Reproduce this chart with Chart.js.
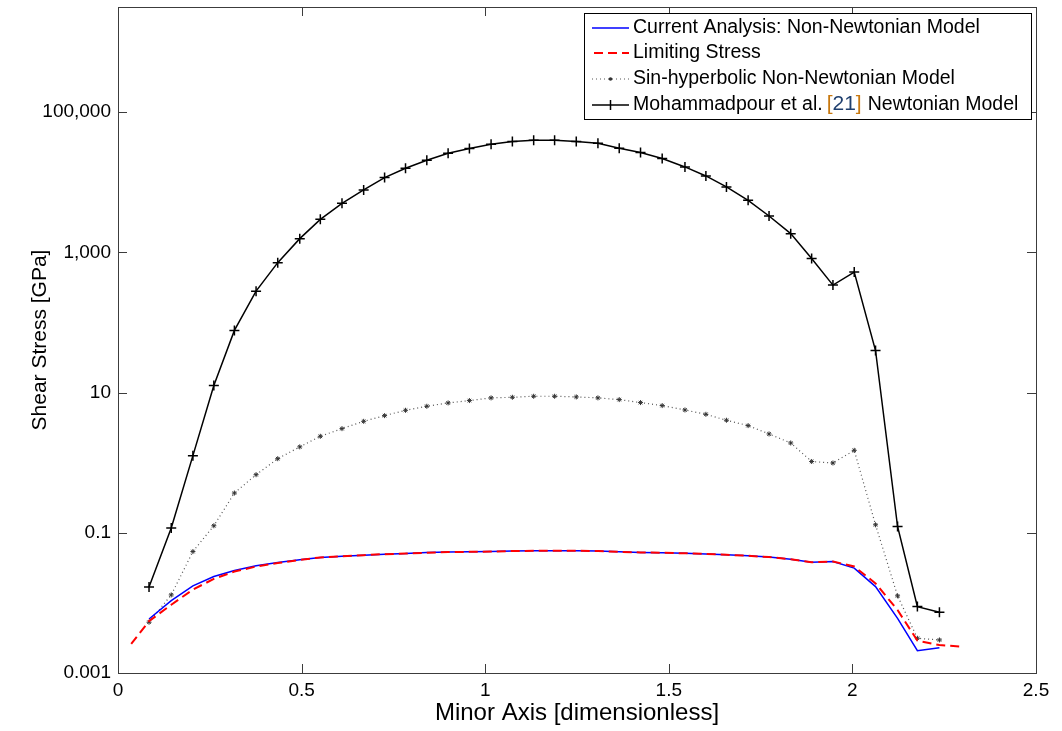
<!DOCTYPE html>
<html>
<head>
<meta charset="utf-8">
<script src="https://cdn.jsdelivr.net/npm/chart.js@4.4.1/dist/chart.umd.min.js"></script>
<style>
  html, body { margin: 0; padding: 0; background: #fff; }
  #wrap { width: 1062px; height: 731px; }
</style>
</head>
<body>
<div id="wrap"><canvas id="chart" width="1062" height="731"></canvas></div>
<script>
// minor axis positions of the model points
const xPts = [0.0845, 0.145, 0.204, 0.261, 0.317, 0.376, 0.435, 0.495, 0.551, 0.610,
    0.669, 0.726, 0.783, 0.841, 0.899, 0.957, 1.016, 1.074, 1.132, 1.189,
    1.248, 1.307, 1.365, 1.423, 1.482, 1.544, 1.601, 1.657, 1.716, 1.773,
    1.832, 1.889, 1.947, 2.005, 2.063, 2.123, 2.177, 2.237];

const currentStress = [0.0059, 0.0108, 0.0175, 0.0238, 0.029, 0.0338, 0.0377, 0.0411, 0.0445, 0.0464,
    0.048, 0.0496, 0.0505, 0.0523, 0.053, 0.0535, 0.054, 0.055, 0.0553, 0.0553,
    0.0553, 0.055, 0.0535, 0.0525, 0.052, 0.051, 0.05, 0.0485, 0.047, 0.045,
    0.042, 0.038, 0.039, 0.0313, 0.0171, 0.006, 0.00208, 0.00229];

const limitX = [0.036, 0.0845, 0.145, 0.204, 0.261, 0.317, 0.376, 0.435, 0.495, 0.551, 0.610,
    0.669, 0.726, 0.783, 0.841, 0.899, 0.957, 1.016, 1.074, 1.132, 1.189,
    1.248, 1.307, 1.365, 1.423, 1.482, 1.544, 1.601, 1.657, 1.716, 1.773,
    1.832, 1.889, 1.947, 2.005, 2.063, 2.123, 2.177, 2.237, 2.298];
const limitStress = [0.0026, 0.0055, 0.0094, 0.0155, 0.022, 0.028, 0.033, 0.037, 0.041, 0.0445, 0.0464,
    0.048, 0.0496, 0.0505, 0.052, 0.053, 0.0535, 0.054, 0.055, 0.0553, 0.0553,
    0.0553, 0.055, 0.0535, 0.0525, 0.052, 0.051, 0.05, 0.0485, 0.047, 0.045,
    0.042, 0.038, 0.039, 0.033, 0.019, 0.0079, 0.0029, 0.0025, 0.00238];

const sinhStress = [0.0053, 0.013, 0.054, 0.126, 0.369, 0.674, 1.14, 1.68, 2.38, 3.06,
    3.89, 4.69, 5.59, 6.38, 7.12, 7.69, 8.4, 8.57, 8.86, 8.86,
    8.67, 8.4, 7.94, 7.2, 6.52, 5.65, 4.9, 4.03, 3.38, 2.57,
    1.91, 1.04, 0.99, 1.5, 0.13, 0.0126, 0.00313, 0.00296];

const newtonStress = [0.0168, 0.117, 1.26, 12.6, 77, 280, 713, 1570, 2960, 5010,
    7760, 11660, 15850, 20600, 25960, 30400, 34900, 38100, 39800, 39800,
    38100, 36100, 30600, 26500, 21800, 16550, 12300, 8570, 5530, 3300,
    1850, 820, 341, 523, 39.8, 0.123, 0.00885, 0.00736];

const yTicks = [0.001, 0.1, 10, 1000, 100000];
const legendLabels = [
    'Current Analysis: Non-Newtonian Model',
    'Limiting Stress',
    'Sin-hyperbolic Non-Newtonian Model',
    'Mohammadpour et al.'
];

const FONT = "'Liberation Sans', Arial, sans-serif";

function pts(xs, ys) { return xs.map((x, i) => ({ x: x, y: ys[i] })); }

// box round the axes with inward ticks on all four sides
const framePlugin = {
    id: 'frame',
    afterDatasetsDraw(chart) {
        const { ctx, chartArea: a, scales: { x, y } } = chart;
        ctx.save();
        ctx.strokeStyle = '#3c3c3c';
        ctx.lineWidth = 1;
        ctx.strokeRect(Math.round(a.left) + 0.5, Math.round(a.top) + 0.5,
            Math.round(a.width), Math.round(a.height));
        ctx.beginPath();
        x.ticks.forEach(t => {
            const px = Math.round(x.getPixelForValue(t.value)) + 0.5;
            ctx.moveTo(px, a.bottom); ctx.lineTo(px, a.bottom - 9);
            ctx.moveTo(px, a.top); ctx.lineTo(px, a.top + 9);
        });
        y.ticks.forEach(t => {
            const py = Math.round(y.getPixelForValue(t.value)) + 0.5;
            ctx.moveTo(a.left, py); ctx.lineTo(a.left + 9, py);
            ctx.moveTo(a.right, py); ctx.lineTo(a.right - 9, py);
        });
        ctx.stroke();
        ctx.restore();
    }
};

// matlab style legend box, top right
const legendPlugin = {
    id: 'matLegend',
    afterDraw(chart) {
        const ctx = chart.ctx;
        const bx = 584, by = 13, bw = 447, bh = 106;
        ctx.save();
        ctx.fillStyle = '#fff';
        ctx.fillRect(bx, by, bw, bh);
        ctx.strokeStyle = '#000';
        ctx.lineWidth = 1;
        ctx.strokeRect(bx + 0.5, by + 0.5, bw, bh);

        const x0 = 592, x1 = 629, tx = 633;
        const rows = [28, 53, 79, 105];
        const legFont = '19.5px ' + FONT;
        ctx.textBaseline = 'middle';
        ctx.font = legFont;

        // blue solid
        ctx.strokeStyle = '#0000ff'; ctx.lineWidth = 1.5;
        ctx.beginPath(); ctx.moveTo(x0, rows[0]); ctx.lineTo(x1, rows[0]); ctx.stroke();
        // red dashed
        ctx.strokeStyle = '#ff0000'; ctx.lineWidth = 2; ctx.setLineDash([9, 5]);
        ctx.beginPath(); ctx.moveTo(x0 + 2, rows[1]); ctx.lineTo(x1, rows[1]); ctx.stroke();
        // gray dotted with marker
        ctx.strokeStyle = '#555'; ctx.lineWidth = 1; ctx.setLineDash([1, 3]);
        ctx.beginPath(); ctx.moveTo(x0, rows[2]); ctx.lineTo(x1, rows[2]); ctx.stroke();
        ctx.setLineDash([]);
        ctx.fillStyle = '#333';
        ctx.beginPath(); ctx.arc((x0 + x1) / 2, rows[2], 1.8, 0, Math.PI * 2); ctx.fill();
        // black with plus
        ctx.strokeStyle = '#000'; ctx.lineWidth = 1.5;
        const mx = (x0 + x1) / 2;
        ctx.beginPath();
        ctx.moveTo(x0, rows[3]); ctx.lineTo(x1, rows[3]);
        ctx.moveTo(mx, rows[3] - 5); ctx.lineTo(mx, rows[3] + 5);
        ctx.stroke();

        ctx.fillStyle = '#000';
        for (let i = 0; i < 4; i++) ctx.fillText(legendLabels[i], tx, rows[i]);
        // reference number: orange brackets, navy digits
        let cx = tx + ctx.measureText(legendLabels[3]).width + 4;
        ctx.font = '21px ' + FONT;
        ctx.fillStyle = '#c8780f';
        ctx.fillText('[', cx, rows[3] - 1);
        cx += ctx.measureText('[').width;
        ctx.fillStyle = '#1f3f6e';
        ctx.fillText('21', cx, rows[3] - 1);
        cx += ctx.measureText('21').width;
        ctx.fillStyle = '#c8780f';
        ctx.fillText(']', cx, rows[3] - 1);
        cx += ctx.measureText(']').width + 6;
        ctx.font = legFont;
        ctx.fillStyle = '#000';
        ctx.fillText('Newtonian Model', cx, rows[3]);
        ctx.restore();
    }
};

new Chart(document.getElementById('chart').getContext('2d'), {
    type: 'line',
    data: {
        datasets: [
            {
                label: legendLabels[1],
                data: pts(limitX, limitStress),
                borderColor: '#ff0000',
                borderWidth: 2,
                borderDash: [9, 5],
                pointRadius: 0,
                tension: 0
            },
            {
                label: legendLabels[0],
                data: pts(xPts, currentStress),
                borderColor: '#0000ff',
                borderWidth: 1.5,
                pointRadius: 0,
                tension: 0
            },
            {
                label: legendLabels[2],
                data: pts(xPts, sinhStress),
                borderColor: '#555555',
                borderWidth: 1.2,
                borderDash: [1, 3],
                pointStyle: 'star',
                pointRadius: 2.5,
                pointBorderColor: '#333',
                pointBorderWidth: 1,
                tension: 0
            },
            {
                label: legendLabels[3],
                data: pts(xPts, newtonStress),
                borderColor: '#000000',
                borderWidth: 1.5,
                pointStyle: 'cross',
                pointRadius: 5,
                pointBorderColor: '#000',
                pointBorderWidth: 1.5,
                tension: 0
            }
        ]
    },
    options: {
        responsive: false,
        animation: false,
        events: [],
        layout: { padding: { top: 7, right: 26, left: 0, bottom: 0 } },
        plugins: {
            legend: { display: false },
            tooltip: { enabled: false }
        },
        scales: {
            x: {
                type: 'linear',
                min: 0,
                max: 2.5,
                grid: { display: false, drawTicks: false },
                border: { display: false },
                ticks: {
                    stepSize: 0.5,
                    padding: 6,
                    color: '#000',
                    font: { family: FONT, size: 19 },
                    callback: v => String(v)
                },
                title: {
                    display: true,
                    text: 'Minor Axis [dimensionless]',
                    color: '#000',
                    font: { family: FONT, size: 24 },
                    padding: { top: 0, bottom: 3 }
                },
                afterFit(scale) {
                    scale.height = 58;
                    scale.paddingLeft = 0;
                    scale.paddingRight = 0;
                }
            },
            y: {
                type: 'logarithmic',
                min: 0.001,
                max: Math.pow(10, 6.5),
                grid: { display: false, drawTicks: false },
                border: { display: false },
                afterBuildTicks(scale) { scale.ticks = yTicks.map(v => ({ value: v })); },
                ticks: {
                    padding: 7,
                    color: '#000',
                    font: { family: FONT, size: 19 },
                    callback: v => Number(v).toLocaleString('en-US', { maximumFractionDigits: 3 })
                },
                title: {
                    display: true,
                    text: 'Shear Stress [GPa]',
                    color: '#000',
                    font: { family: FONT, size: 21 },
                    padding: { top: 28, bottom: 0 }
                },
                afterFit(scale) {
                    scale.width = 118;
                    scale.paddingTop = 0;
                    scale.paddingBottom = 0;
                }
            }
        }
    },
    plugins: [framePlugin, legendPlugin]
});
</script>
</body>
</html>
